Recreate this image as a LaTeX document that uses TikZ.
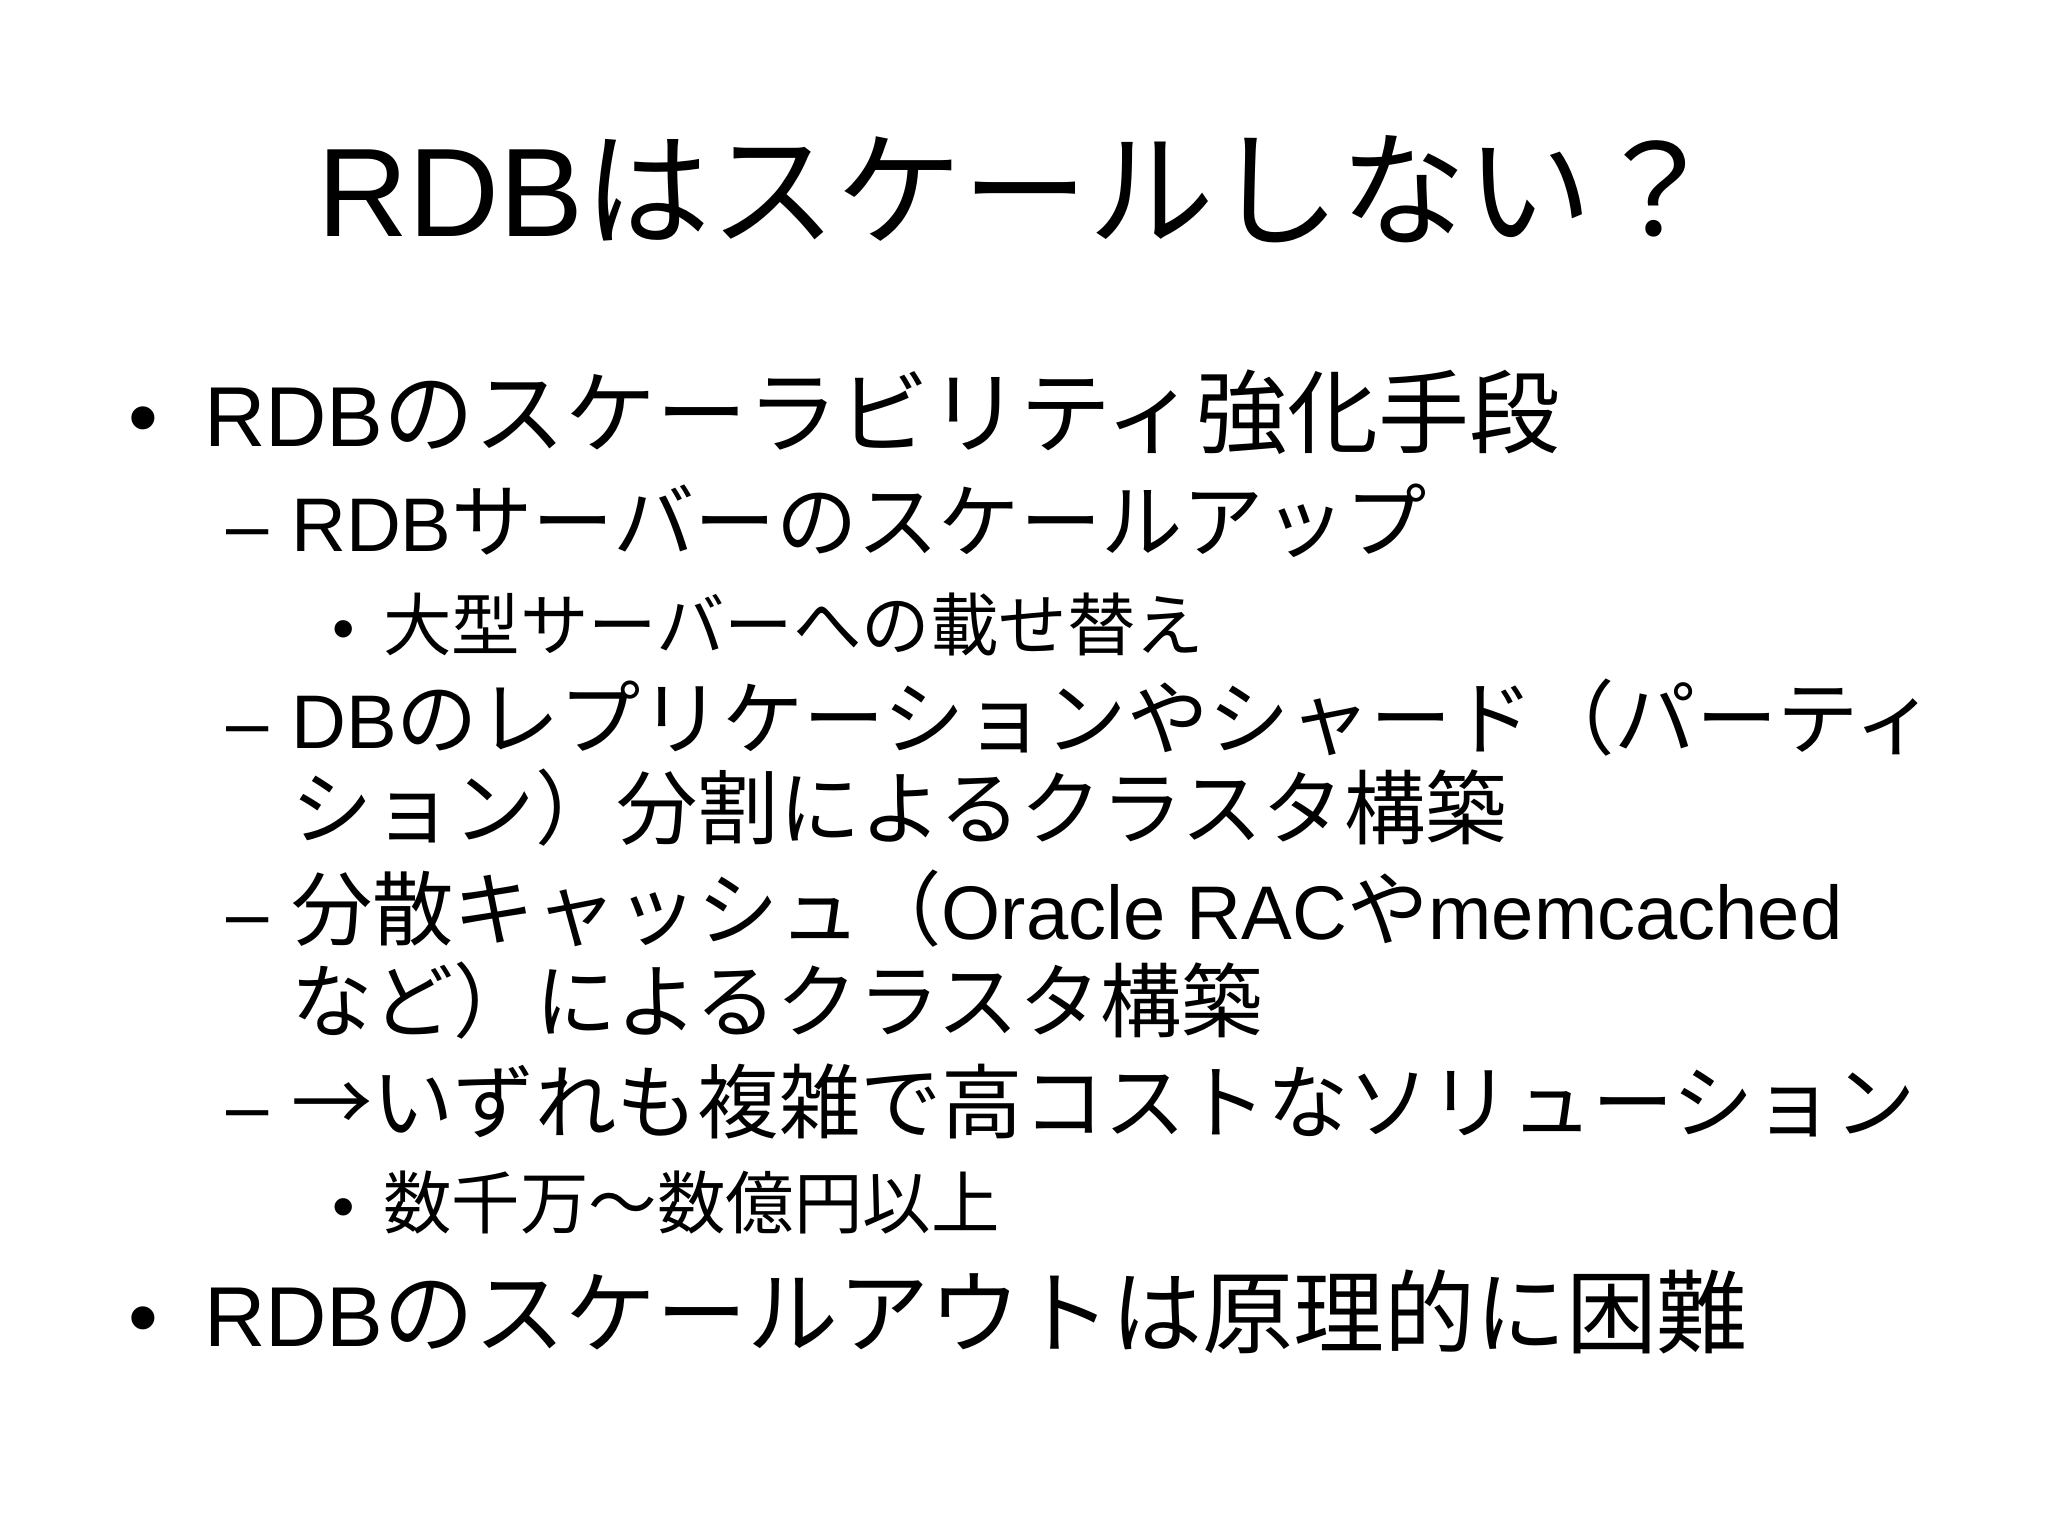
\documentclass[tikz,border=0pt]{standalone}
\usepackage{fontspec}
\setmainfont{Liberation Sans}
\newfontfamily\jpf{Noto Sans CJK JP}
\newfontfamily\jpbf[Scale=1.07]{Noto Sans CJK JP}
\newcommand{\jt}[1]{{\jpf #1}}
\newcommand{\jp}[1]{{\jpbf #1}}
\begin{document}
\begin{tikzpicture}[x=1pt,y=-1pt,
  t/.style={anchor=base west,inner sep=0pt},
  lone/.style={t,font=\fontsize{85}{90}\selectfont},
  ltwo/.style={t,font=\fontsize{76}{80}\selectfont},
  lthree/.style={t,font=\fontsize{64}{64}\selectfont}]
\path[fill=white] (0,0) rectangle (2048,1536);
\node[anchor=base,inner sep=0pt,font=\fontsize{126}{130}\selectfont] (title) at (1018,236) {RDB\jt{はスケールしない？}};
\node[lone] (b1) at (128,446) {•};
\node[lone] (l1) at (204,446) {RDB\jp{のスケーラビリティ強化手段}};
\node[ltwo] (d1) at (226,551) {–};
\node[ltwo] (l2) at (291,551) {RDB\jp{サーバーのスケールアップ}};
\node[lthree] (b2) at (332,650) {•};
\node[lthree] (l3) at (383,650) {\jp{大型サーバーへの載せ替え}};
\node[ltwo] (d2) at (226,748) {–};
\node[ltwo] (l4) at (291,748) {DB\jp{のレプリケーションやシャード（パーティ}};
\node[ltwo] (l4b) at (291,838) {\jp{ション）分割によるクラスタ構築}};
\node[ltwo] (d3) at (226,939) {–};
\node[ltwo] (l5) at (291,939) {\jp{分散キャッシュ（}Oracle RAC\jp{や}memcached};
\node[ltwo] (l5b) at (291,1031) {\jp{など）によるクラスタ構築}};
\node[ltwo] (d4) at (226,1132) {–};
\node[ltwo] (l6) at (291,1132) {\jp{→いずれも複雑で高コストなソリューション}};
\node[lthree] (b3) at (332,1228) {•};
\node[lthree] (l7) at (383,1228) {\jp{数千万～数億円以上}};
\node[lone] (b4) at (128,1346) {•};
\node[lone] (l8) at (204,1346) {RDB\jp{のスケールアウトは原理的に困難}};
\end{tikzpicture}
\end{document}
